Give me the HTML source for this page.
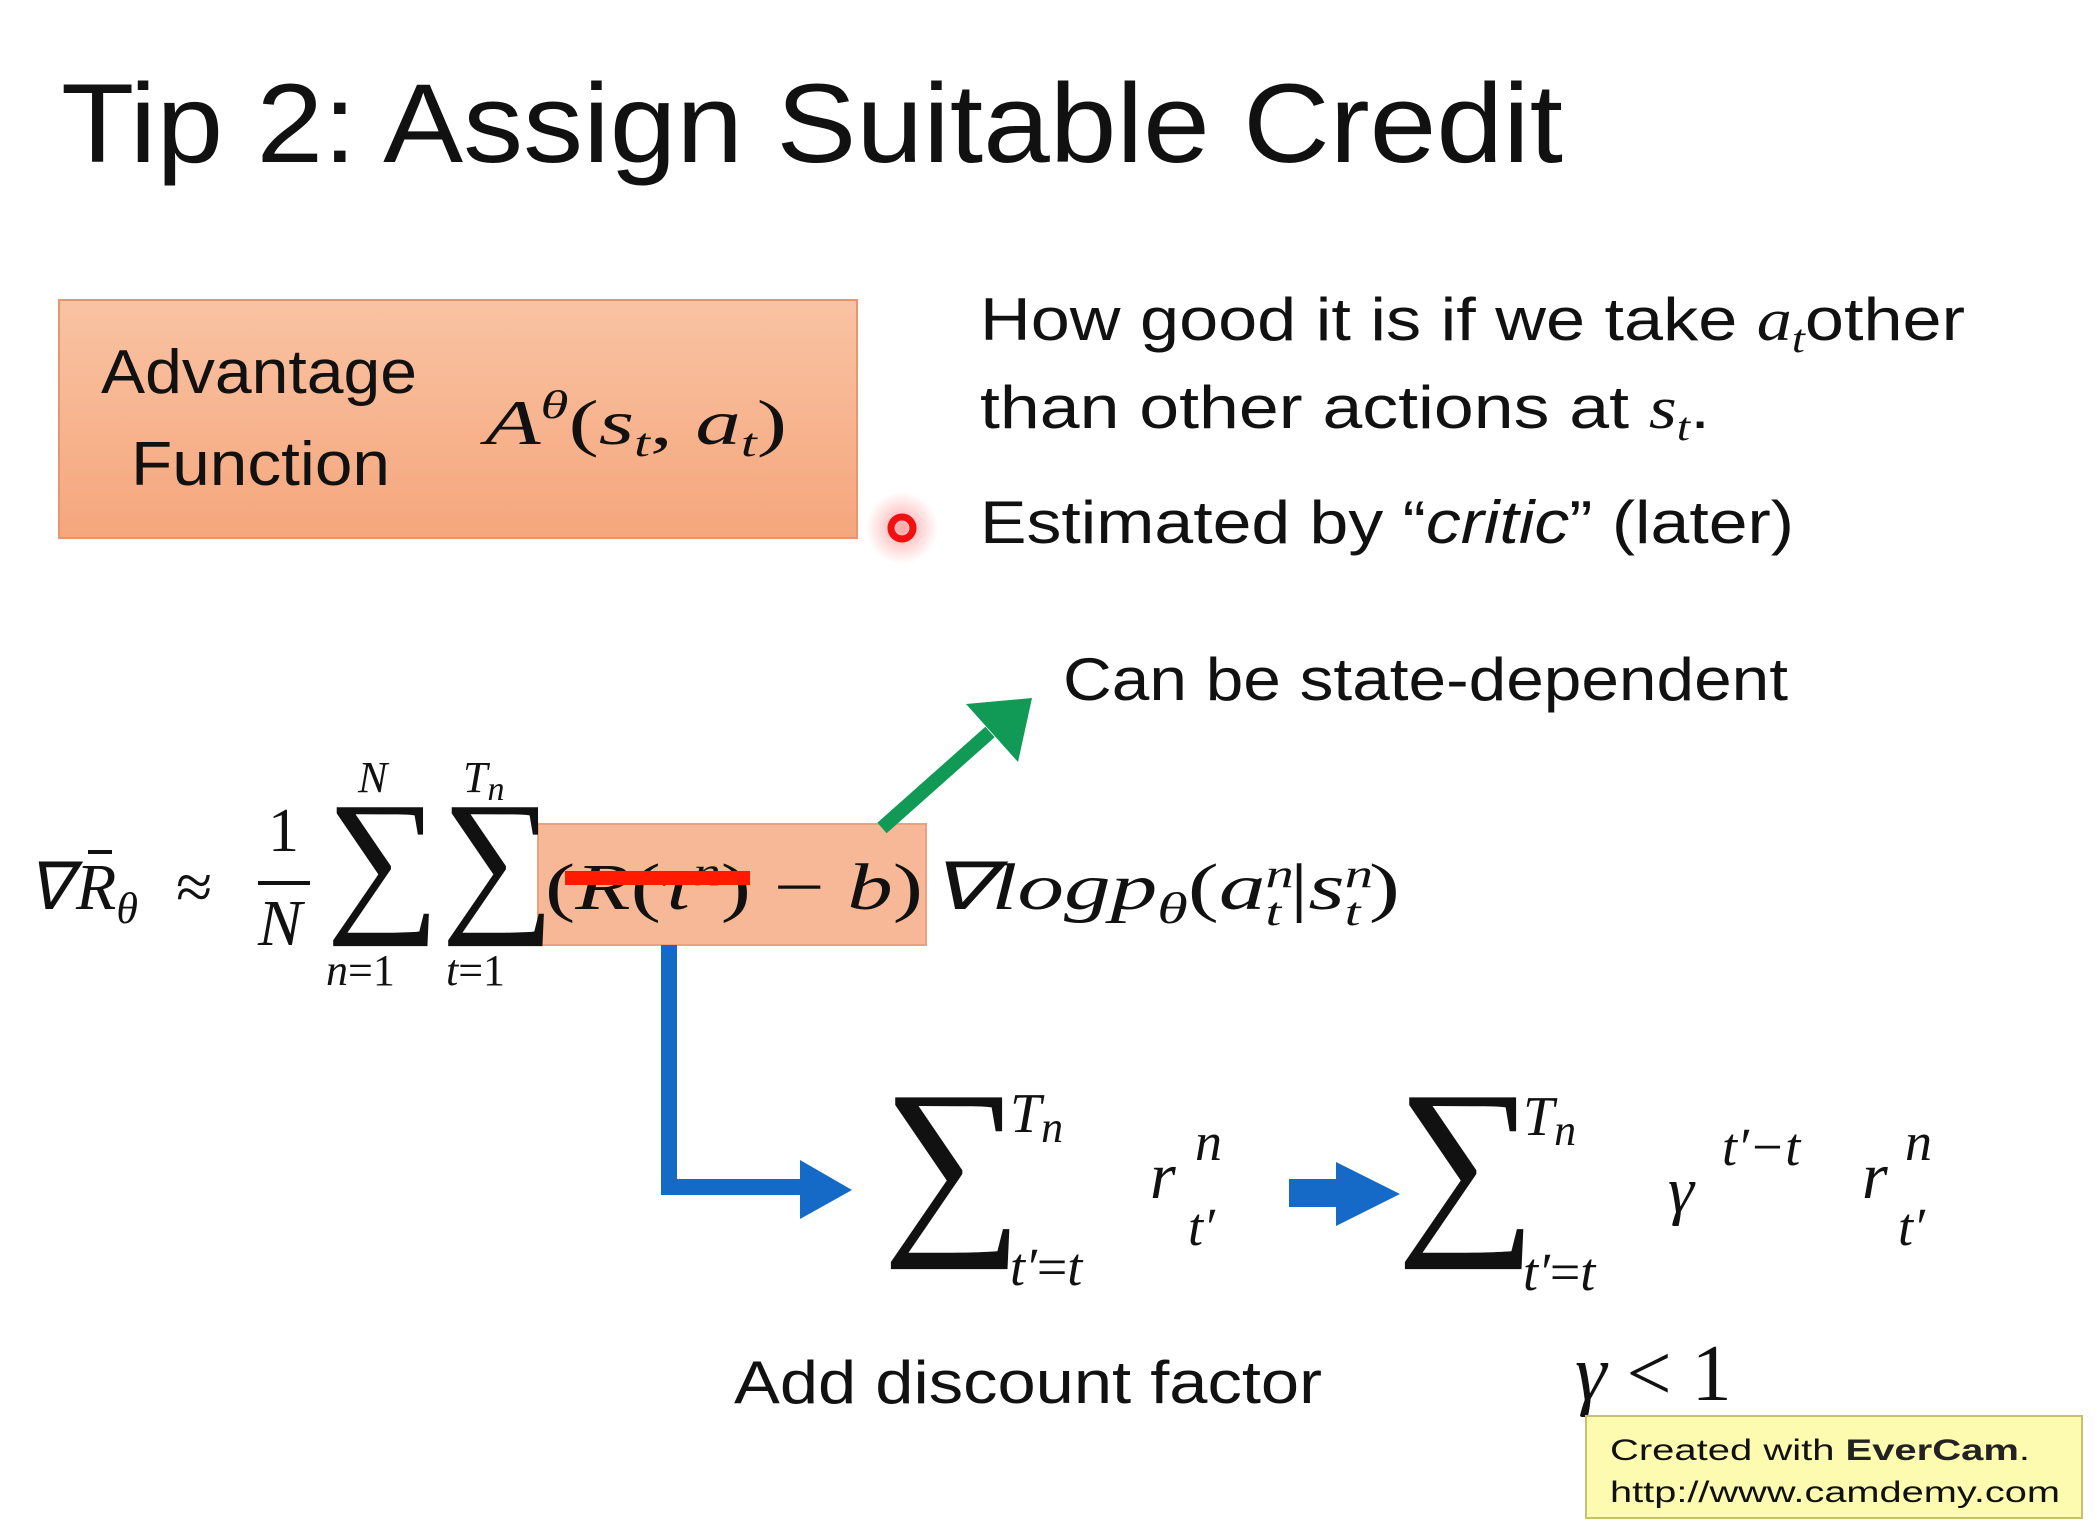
<!DOCTYPE html>
<html><head><meta charset="utf-8"><style>
html,body{margin:0;padding:0;background:#fff;}
svg{display:block}
.s{font-family:"Liberation Sans",sans-serif;fill:#111}
.m{font-family:"Liberation Serif",serif;font-style:italic;fill:#111}
.r{font-family:"Liberation Serif",serif;fill:#111}
</style></head><body>
<svg width="2100" height="1533" viewBox="0 0 2100 1533" xmlns="http://www.w3.org/2000/svg">
<defs>
<linearGradient id="og" x1="0" y1="0" x2="0" y2="1"><stop offset="0" stop-color="#f9c3a3"/><stop offset="1" stop-color="#f5a67c"/></linearGradient>
<radialGradient id="rg"><stop offset="0" stop-color="#ff8080" stop-opacity="0.7"/><stop offset="1" stop-color="#ff8080" stop-opacity="0"/></radialGradient>
</defs>
<text class="s" x="61" y="162" font-size="112" textLength="1502" lengthAdjust="spacingAndGlyphs">Tip 2: Assign Suitable Credit</text>

<rect x="59" y="300" width="798" height="238" fill="url(#og)" stroke="#e8946c" stroke-width="2"/>
<text class="s" x="101" y="393" font-size="62" textLength="316" lengthAdjust="spacingAndGlyphs">Advantage</text>
<text class="s" x="131" y="485" font-size="62" textLength="259" lengthAdjust="spacingAndGlyphs">Function</text>
<text class="m" x="485" y="444" font-size="64" textLength="302" lengthAdjust="spacingAndGlyphs">A<tspan dy="-26" font-size="40">θ</tspan><tspan dy="26" font-style="normal">(</tspan>s<tspan dy="12" font-size="40">t</tspan><tspan dy="-12" font-style="normal">, </tspan>a<tspan dy="12" font-size="40">t</tspan><tspan dy="-12" font-style="normal">)</tspan></text>

<text class="s" x="980" y="340" font-size="60" textLength="985" lengthAdjust="spacingAndGlyphs">How good it is if we take <tspan class="m">a</tspan><tspan class="m" dy="12" font-size="40">t</tspan><tspan dy="-12">other</tspan></text>
<text class="s" x="980" y="428" font-size="60" textLength="730" lengthAdjust="spacingAndGlyphs">than other actions at <tspan class="m">s</tspan><tspan class="m" dy="12" font-size="40">t</tspan><tspan dy="-12">.</tspan></text>
<circle cx="902" cy="528" r="36" fill="url(#rg)"/>
<circle cx="902" cy="528" r="11" fill="none" stroke="#f01010" stroke-width="7"/>
<text class="s" x="980" y="543" font-size="60" textLength="814" lengthAdjust="spacingAndGlyphs">Estimated by “<tspan font-style="italic">critic</tspan>” (later)</text>

<text class="s" x="1063" y="700" font-size="60" textLength="725" lengthAdjust="spacingAndGlyphs">Can be state-dependent</text>

<rect x="538" y="824" width="388" height="121" fill="#f6b897" stroke="#eea07c" stroke-width="2"/>
<line x1="882" y1="828" x2="990" y2="732" stroke="#119a55" stroke-width="14"/>
<polygon points="1032,698 1018,762 966,704" fill="#119a55"/>

<text class="m" x="27" y="909" font-size="66">∇</text>
<text class="m" x="76" y="909" font-size="66">R<tspan dy="14" font-size="44">θ</tspan></text>
<line x1="88" y1="852" x2="112" y2="852" stroke="#111" stroke-width="4"/>
<text class="r" x="176" y="909" font-size="66">≈</text>
<text class="r" x="268" y="851" font-size="62">1</text>
<line x1="258" y1="883" x2="310" y2="883" stroke="#111" stroke-width="4"/>
<text class="m" x="258" y="945" font-size="66">N</text>
<text class="r" x="326" y="912" font-size="160">∑</text>
<text class="r" x="441" y="912" font-size="160">∑</text>
<text class="m" x="358" y="792" font-size="44">N</text>
<text class="m" x="463" y="792" font-size="44">T<tspan dy="8" font-size="34">n</tspan></text>
<text class="m" x="326" y="985" font-size="44">n<tspan font-style="normal">=1</tspan></text>
<text class="m" x="446" y="985" font-size="44">t<tspan font-style="normal">=1</tspan></text>
<text class="m" x="545" y="909" font-size="66" textLength="378" lengthAdjust="spacingAndGlyphs"><tspan font-style="normal">(</tspan>R<tspan font-style="normal">(</tspan>τ<tspan dy="-24" font-size="40">n</tspan><tspan dy="24" font-style="normal">) − </tspan>b<tspan font-style="normal">)</tspan></text>
<line x1="565" y1="878" x2="750" y2="878" stroke="#ff1a00" stroke-width="14"/>
<text class="m" x="929" y="909" font-size="66" textLength="471" lengthAdjust="spacingAndGlyphs">∇logp<tspan dy="14" font-size="44">θ</tspan><tspan dy="-14" font-style="normal">(</tspan>a<tspan dy="-22" font-size="40">n</tspan><tspan dx="-20" dy="38" font-size="40">t</tspan><tspan dx="6" dy="-16" font-style="normal">|</tspan>s<tspan dy="-22" font-size="40">n</tspan><tspan dx="-20" dy="38" font-size="40">t</tspan><tspan dx="6" dy="-16" font-style="normal">)</tspan></text>

<polyline points="669,945 669,1187 805,1187" fill="none" stroke="#1569c7" stroke-width="16"/>
<polygon points="800,1160 852,1190 800,1219" fill="#1569c7"/>

<text class="r" x="882" y="1227" font-size="198">∑</text>
<text class="m" x="1010" y="1132" font-size="56">T<tspan dy="10" font-size="44">n</tspan></text>
<text class="m" x="1010" y="1285" font-size="54">t′<tspan font-style="normal">=</tspan>t</text>
<text class="m" x="1150" y="1198" font-size="66">r</text>
<text class="m" x="1195" y="1160" font-size="54">n</text>
<text class="m" x="1188" y="1245" font-size="54">t′</text>

<rect x="1289" y="1179" width="50" height="28" fill="#1569c7"/>
<polygon points="1336,1162 1400,1194 1336,1226" fill="#1569c7"/>

<text class="r" x="1396" y="1227" font-size="198">∑</text>
<text class="m" x="1523" y="1135" font-size="56">T<tspan dy="10" font-size="44">n</tspan></text>
<text class="m" x="1523" y="1290" font-size="54">t′<tspan font-style="normal">=</tspan>t</text>
<text class="m" x="1668" y="1212" font-size="66">γ</text>
<text class="m" x="1722" y="1165" font-size="54">t′−t</text>
<text class="m" x="1862" y="1198" font-size="66">r</text>
<text class="m" x="1905" y="1160" font-size="54">n</text>
<text class="m" x="1898" y="1245" font-size="54">t′</text>

<text class="s" x="734" y="1403" font-size="60" textLength="588" lengthAdjust="spacingAndGlyphs">Add discount factor</text>
<text class="m" x="1575" y="1400" font-size="80">γ<tspan font-style="normal"> &lt; 1</tspan></text>

<rect x="1586" y="1416" width="496" height="102" fill="#fdfbb0" stroke="#c9c06a" stroke-width="2"/>
<text class="s" x="1610" y="1460" font-size="30" fill="#444" textLength="420" lengthAdjust="spacingAndGlyphs">Created with <tspan font-weight="bold" fill="#222">EverCam</tspan>.</text>
<text class="s" x="1610" y="1502" font-size="30" fill="#444" textLength="450" lengthAdjust="spacingAndGlyphs">http://www.camdemy.com</text>
</svg>
</body></html>
